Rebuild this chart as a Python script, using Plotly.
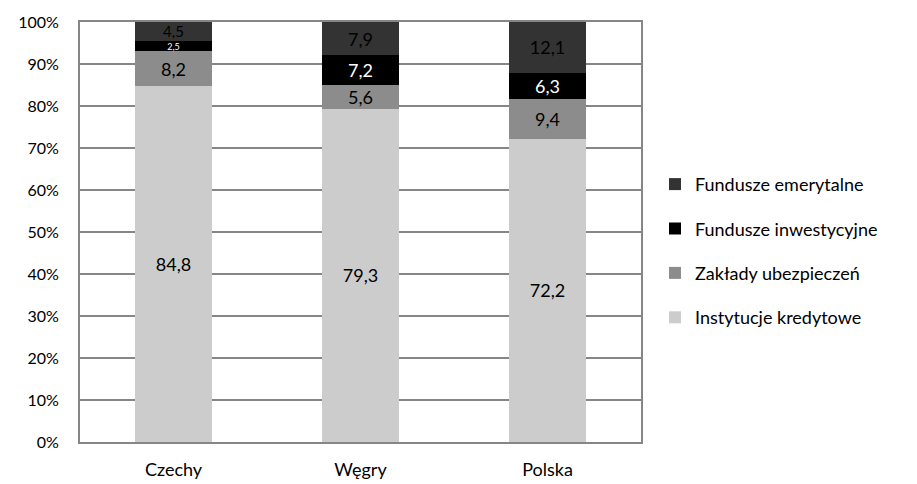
import plotly.graph_objects as go

countries = ["Czechy", "Węgry", "Polska"]
kredytowe = [84.8, 79.3, 72.2]
ubezpieczen = [8.2, 5.6, 9.4]
inwestycyjne = [2.5, 7.2, 6.3]
emerytalne = [4.5, 7.9, 12.1]

series = [
    ("Instytucje kredytowe", kredytowe, "#cccccc", "#000000"),
    ("Zakłady ubezpieczeń", ubezpieczen, "#8c8c8c", "#000000"),
    ("Fundusze inwestycyjne", inwestycyjne, "#000000", "#ffffff"),
    ("Fundusze emerytalne", emerytalne, "#333333", "#000000"),
]

FONT = "Lato"


def label_size(v):
    # thin segments get a smaller label so it stays inside its band
    if v < 3:
        return 9
    if v < 5:
        return 15
    return 18


fig = go.Figure()
for i, (name, vals, color, tcolor) in enumerate(series):
    fig.add_trace(go.Bar(
        name=name,
        x=countries,
        y=vals,
        marker=dict(color=color, line=dict(width=0)),
        text=[f"{v:.1f}".replace(".", ",") for v in vals],
        textposition="inside",
        insidetextanchor="middle",
        constraintext="none",
        textangle=0,
        textfont=dict(family=FONT, size=[label_size(v) for v in vals], color=tcolor),
        legendgroup=f"g{i}",
        legendrank=len(series) - i,
    ))

fig.update_layout(
    barmode="stack",
    bargap=0.59,
    width=917,
    height=484,
    margin=dict(l=80, r=276, t=22, b=42),
    plot_bgcolor="#ffffff",
    paper_bgcolor="#ffffff",
    font=dict(family=FONT, size=16, color="#000000"),
    uniformtext=dict(mode=False),
    legend=dict(
        traceorder="grouped",
        tracegroupgap=18,
        x=1.025,
        xanchor="left",
        y=0.455,
        yanchor="middle",
        font=dict(family=FONT, size=18, color="#000000"),
        itemwidth=30,
    ),
    xaxis=dict(
        showline=True,
        linecolor="#868686",
        linewidth=2,
        mirror=True,
        ticks="",
        ticklabelstandoff=10,
        tickfont=dict(size=18),
        automargin=False,
    ),
    yaxis=dict(
        range=[0, 100],
        dtick=10,
        ticksuffix="%",
        showgrid=True,
        gridcolor="#868686",
        gridwidth=2,
        showline=True,
        linecolor="#868686",
        linewidth=2,
        mirror=True,
        zeroline=False,
        ticks="",
        ticklabelstandoff=16,
        tickfont=dict(size=16),
        automargin=False,
    ),
)

fig.write_html("out.html")
